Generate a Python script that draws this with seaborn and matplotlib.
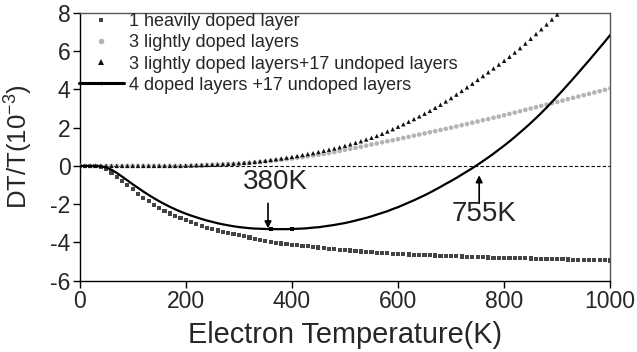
import numpy as np
import pandas as pd
import matplotlib
matplotlib.use("Agg")
import matplotlib.pyplot as plt
from matplotlib.lines import Line2D
import seaborn as sns

# ---------------- data ----------------
temperature = list(range(0, 1001, 10))

heavily_doped = [
    0, 0, 0, -0.01, -0.04, -0.15, -0.35, -0.58, -0.8, -1.02,
    -1.23, -1.45, -1.66, -1.85, -2.03, -2.2, -2.35, -2.49, -2.62, -2.74,
    -2.85, -2.95, -3.05, -3.14, -3.23, -3.31, -3.38, -3.45, -3.51, -3.57,
    -3.63, -3.69, -3.75, -3.81, -3.87, -3.93, -3.98, -4.02, -4.06, -4.09,
    -4.12, -4.15, -4.18, -4.21, -4.24, -4.27, -4.3, -4.33, -4.36, -4.38,
    -4.41, -4.43, -4.45, -4.48, -4.5, -4.52, -4.54, -4.56, -4.58, -4.6,
    -4.62, -4.63, -4.64, -4.65, -4.66, -4.67, -4.68, -4.69, -4.7, -4.71,
    -4.72, -4.73, -4.74, -4.75, -4.76, -4.77, -4.78, -4.79, -4.8, -4.8,
    -4.81, -4.82, -4.83, -4.84, -4.84, -4.85, -4.86, -4.87, -4.87, -4.88,
    -4.89, -4.89, -4.9, -4.91, -4.91, -4.92, -4.93, -4.93, -4.94, -4.94,
    -4.95,
]

lightly_doped = [
    0, 0, 0, 0, 0, 0, 0, 0, 0, 0,
    0, 0, 0, 0, 0, 0, 0, 0, 0, 0,
    0.01, 0.02, 0.03, 0.04, 0.05, 0.06, 0.07, 0.08, 0.09, 0.1,
    0.12, 0.14, 0.16, 0.18, 0.2, 0.23, 0.26, 0.29, 0.32, 0.35,
    0.38, 0.42, 0.46, 0.5, 0.54, 0.58, 0.62, 0.67, 0.72, 0.78,
    0.84, 0.89, 0.95, 1.0, 1.06, 1.12, 1.17, 1.23, 1.29, 1.34,
    1.4, 1.46, 1.52, 1.58, 1.64, 1.7, 1.76, 1.82, 1.88, 1.94,
    2.0, 2.06, 2.13, 2.19, 2.26, 2.32, 2.39, 2.45, 2.52, 2.58,
    2.65, 2.72, 2.79, 2.86, 2.93, 3.0, 3.07, 3.14, 3.21, 3.28,
    3.35, 3.42, 3.49, 3.56, 3.63, 3.7, 3.77, 3.84, 3.91, 3.98,
    4.05,
]

temperature_tri = list(range(0, 901, 10))
lightly_plus_undoped = [
    0, 0, 0, 0, 0, 0, 0, 0, 0, 0,
    0, 0, 0, 0, 0, 0, 0, 0, 0, 0,
    0.01, 0.02, 0.03, 0.04, 0.05, 0.06, 0.07, 0.09, 0.1, 0.12,
    0.14, 0.16, 0.18, 0.21, 0.24, 0.27, 0.31, 0.35, 0.39, 0.43,
    0.47, 0.52, 0.57, 0.62, 0.67, 0.73, 0.79, 0.85, 0.91, 0.98,
    1.05, 1.13, 1.21, 1.29, 1.38, 1.47, 1.57, 1.68, 1.8, 1.92,
    2.05, 2.18, 2.31, 2.45, 2.59, 2.73, 2.88, 3.04, 3.2, 3.37,
    3.55, 3.73, 3.92, 4.11, 4.3, 4.5, 4.7, 4.9, 5.1, 5.3,
    5.5, 5.71, 5.93, 6.16, 6.4, 6.65, 6.9, 7.15, 7.4, 7.66,
    7.92,
]

four_doped_plus_undoped = [
    0, 0, 0, 0, -0.02, -0.08, -0.2, -0.37, -0.56, -0.76,
    -0.96, -1.15, -1.34, -1.52, -1.69, -1.85, -2.0, -2.14, -2.27, -2.39,
    -2.5, -2.6, -2.69, -2.78, -2.86, -2.93, -3.0, -3.06, -3.11, -3.16,
    -3.2, -3.23, -3.26, -3.28, -3.29, -3.3, -3.31, -3.31, -3.31, -3.31,
    -3.3, -3.29, -3.28, -3.26, -3.23, -3.21, -3.17, -3.13, -3.09, -3.04,
    -2.99, -2.93, -2.86, -2.79, -2.72, -2.64, -2.55, -2.46, -2.37, -2.26,
    -2.16, -2.04, -1.92, -1.8, -1.67, -1.54, -1.4, -1.25, -1.1, -0.94,
    -0.79, -0.63, -0.46, -0.29, -0.12, 0.06, 0.25, 0.44, 0.64, 0.85,
    1.06, 1.28, 1.51, 1.75, 1.99, 2.24, 2.5, 2.77, 3.05, 3.34,
    3.64, 3.94, 4.25, 4.56, 4.88, 5.2, 5.52, 5.85, 6.18, 6.51,
    6.85,
]

series_labels = [
    "1 heavily doped layer",
    "3 lightly doped layers",
    "3 lightly doped layers+17 undoped layers",
    "4 doped layers +17 undoped layers",
]
x_ticks = [0, 200, 400, 600, 800, 1000]
y_ticks = [-6, -4, -2, 0, 2, 4, 6, 8]
annot_min_label = "380K"
annot_zero_label = "755K"

# ---------------- style ----------------
sns.set_style("ticks")
plt.rcParams["font.family"] = ["Liberation Sans", "DejaVu Sans"]
plt.rcParams["axes.unicode_minus"] = False
plt.rcParams["mathtext.fontset"] = "custom"
plt.rcParams["mathtext.rm"] = "Liberation Sans"
plt.rcParams["mathtext.it"] = "Liberation Sans"

fig = plt.figure(figsize=(6.37, 3.52), dpi=100)
ax = fig.add_axes([0.125, 0.203, 0.833, 0.760])

ax.axhline(0, color="black", lw=0.8, ls=(0, (3, 2)), zorder=1)

sns.scatterplot(x=temperature, y=heavily_doped, marker="s", s=9, color="#444444",
                edgecolor="none", ax=ax, zorder=3)
sns.scatterplot(x=temperature, y=lightly_doped, marker="o", s=11, color="#b4b4b4",
                edgecolor="none", ax=ax, zorder=3)
sns.scatterplot(x=temperature_tri, y=lightly_plus_undoped, marker="^", s=10, color="#111111",
                edgecolor="none", ax=ax, zorder=4)
sns.lineplot(x=temperature, y=four_doped_plus_undoped, color="black", lw=1.6,
             marker="s", markersize=3, markevery=[36, 40], markeredgewidth=0,
             ax=ax, zorder=5)

ax.set_xlim(0, 1000)
ax.set_ylim(-6, 8)
ax.set_xticks(x_ticks)
ax.set_yticks(y_ticks)
ax.tick_params(axis="both", labelsize=16.5, direction="out", length=5, width=1,
               color="black", pad=1.5, top=False, right=False)
for side in ["left", "bottom"]:
    ax.spines[side].set_color("black")
    ax.spines[side].set_linewidth(1.0)
for side in ["top", "right"]:
    ax.spines[side].set_visible(True)
    ax.spines[side].set_color("#555555")
    ax.spines[side].set_linewidth(1.0)

ax.set_xlabel("Electron Temperature(K)", fontsize=20.8, labelpad=6)
ax.set_ylabel(r"DT/T(10$^{-3}$)", fontsize=18.5, labelpad=11)

# annotations
ax.annotate("", xy=(355, -3.27), xytext=(355, -1.96),
            arrowprops=dict(arrowstyle="-|>", color="black", lw=1.2,
                            mutation_scale=10, shrinkA=0, shrinkB=0))
ax.text(369, -0.84, annot_min_label, ha="center", va="center", fontsize=20)
ax.annotate("", xy=(753, -0.49), xytext=(753, -1.96),
            arrowprops=dict(arrowstyle="-|>", color="black", lw=1.2,
                            mutation_scale=10, shrinkA=0, shrinkB=0))
ax.text(762, -2.54, annot_zero_label, ha="center", va="center", fontsize=20)

handles = [
    Line2D([], [], ls="none", marker="s", markersize=3.5, color="#444444", markeredgewidth=0),
    Line2D([], [], ls="none", marker="o", markersize=4, color="#b4b4b4", markeredgewidth=0),
    Line2D([], [], ls="none", marker="^", markersize=4, color="#111111", markeredgewidth=0),
    Line2D([], [], color="black", lw=2.2, marker="o", markersize=2.5, markeredgewidth=0),
]
leg = ax.legend(handles, series_labels, loc="upper left", frameon=False,
                fontsize=13, handlelength=2.5, handletextpad=0.3,
                labelspacing=0.23, borderaxespad=0.0, borderpad=0.0,
                bbox_to_anchor=(-0.002, 0.999))

fig.savefig("out.png", dpi=100)
